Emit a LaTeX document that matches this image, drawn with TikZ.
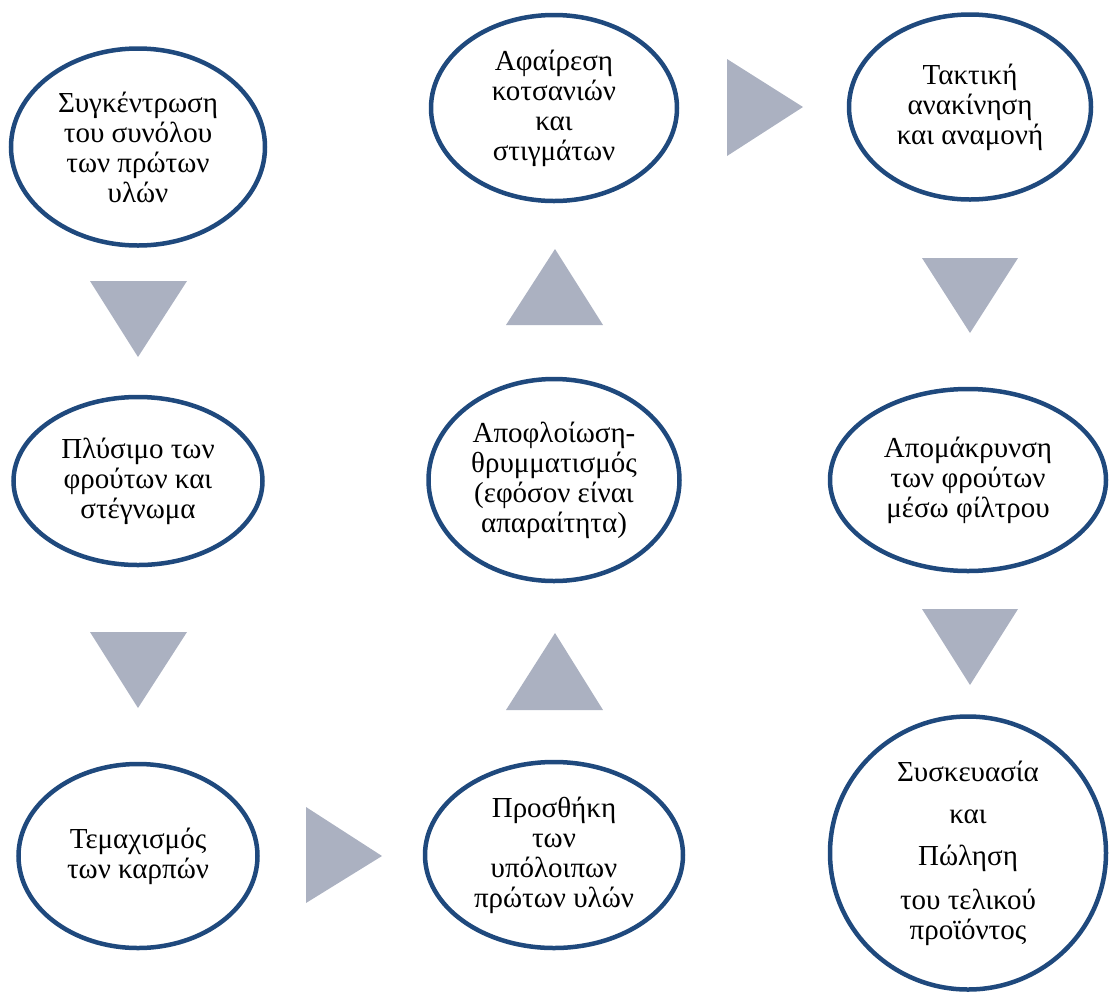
\documentclass[tikz,border=0pt]{standalone}
\usepackage{fontspec}
\setmainfont{Liberation Serif}
\usetikzlibrary{shapes.geometric}
\definecolor{ringblue}{RGB}{31,73,125}
\definecolor{flowgrey}{RGB}{171,177,193}
\begin{document}
\begin{tikzpicture}[x=1pt,y=-1pt,
  stage/.style={ellipse, draw=ringblue, line width=4.5pt, fill=white, inner sep=0pt,
    align=center, font=\fontsize{29}{30}\selectfont},
  flowmark/.style={fill=flowgrey}]
\useasboundingbox (0,0) rectangle (1109,994);

% process stages
\node[stage, minimum width=254pt, minimum height=197pt] (collect) at (138,147)
  {Συγκέντρωση\\του συνόλου\\των πρώτων\\υλών};
\node[stage, minimum width=249pt, minimum height=168pt] (wash) at (138,481)
  {Πλύσιμο των\\φρούτων και\\στέγνωμα};
\node[stage, minimum width=239pt, minimum height=184pt] (cut) at (138,856)
  {Τεμαχισμός\\των καρπών};
\node[stage, minimum width=258pt, minimum height=186pt] (add) at (554,855)
  {Προσθήκη\\των\\υπόλοιπων\\πρώτων υλών};
\node[stage, minimum width=251pt, minimum height=202pt] (peel) at (554,480)
  {Αποφλοίωση-\\θρυμματισμός\\(εφόσον είναι\\απαραίτητα)};
\node[stage, minimum width=246pt, minimum height=186pt] (stems) at (554,108)
  {Αφαίρεση\\κοτσανιών\\και\\στιγμάτων};
\node[stage, minimum width=242pt, minimum height=185pt] (stir) at (970,107)
  {Τακτική\\ανακίνηση\\και αναμονή};
\node[stage, minimum width=276pt, minimum height=182pt] (filter) at (968,480)
  {Απομάκρυνση\\των φρούτων\\μέσω φίλτρου};
\node[stage, minimum width=276pt, minimum height=273pt] (pack) at (968,853)
  {Συσκευασία\\[12pt]και\\[12pt]Πώληση\\[14pt]του τελικού\\προϊόντος};

% direction marks between stages
\fill[flowmark] (90,281) -- (187,281) -- (138,357) -- cycle;
\fill[flowmark] (90,632) -- (187,632) -- (138,708) -- cycle;
\fill[flowmark] (306,807) -- (306,903) -- (382,856) -- cycle;
\fill[flowmark] (506,710) -- (603,710) -- (555,633) -- cycle;
\fill[flowmark] (506,325) -- (603,325) -- (555,249) -- cycle;
\fill[flowmark] (727,59) -- (727,156) -- (803,107) -- cycle;
\fill[flowmark] (922,258) -- (1018,258) -- (970,333) -- cycle;
\fill[flowmark] (922,609) -- (1018,609) -- (970,685) -- cycle;
\end{tikzpicture}
\end{document}
